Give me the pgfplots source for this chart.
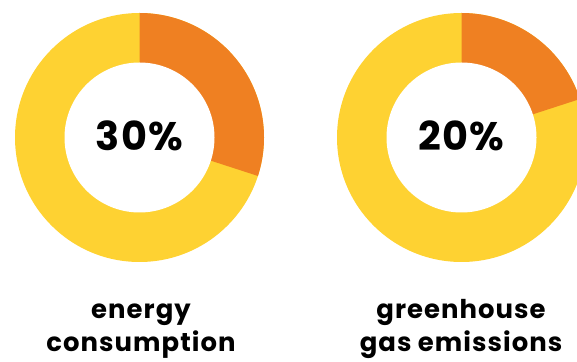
\documentclass[border=0pt]{standalone}
\usepackage{pgfplots}
\pgfplotsset{compat=1.18}
\usepackage{pgfplotstable}
\usepackage{fontspec}
\setmainfont{Poppins}[BoldFont={* Bold}]
\newfontfamily\labelfont{Poppins}[UprightFont={* Bold}, LetterSpace=4]
\newfontfamily\pctfont{Poppins}[UprightFont={* Bold}, LetterSpace=3]
\definecolor{donutorange}{RGB}{239,128,34}
\definecolor{donutyellow}{RGB}{254,210,50}
\pgfplotstableread{
idx cx value
0 139.5 30
1 461.5 20
}\donutdata
\begin{document}
\begin{tikzpicture}
\begin{axis}[
  width=577bp, height=362bp, scale only axis,
  xmin=0, xmax=577, ymin=0, ymax=362,
  hide axis, clip=true,
]
\addplot[draw=none, mark=none] coordinates {(0,0) (577,362)};
\pgfplotsforeachungrouped \i in {0,1}{%
  \pgfplotstablegetelem{\i}{cx}\of\donutdata
  \edef\cx{\pgfplotsretval}%
  \pgfplotstablegetelem{\i}{value}\of\donutdata
  \edef\val{\pgfplotsretval}%
  \edef\temp{\noexpand\fill[donutyellow] (axis cs:\cx,224.5) circle[radius=124.5bp];
    \noexpand\fill[donutorange] (axis cs:\cx,224.5) -- ++(90:124.5bp) arc[start angle=90, delta angle={-3.6*\val}, radius=124.5bp] -- cycle;
    \noexpand\fill[white] (axis cs:\cx,224.5) circle[radius=75bp];
    \noexpand\node[font=\noexpand\fontsize{40}{42}\noexpand\selectfont\noexpand\pctfont] at (axis cs:\cx,226) {\val\noexpand\%};}%
  \temp
}
\node[font=\fontsize{26}{33}\selectfont\labelfont, align=center, anchor=base, inner sep=0pt] at (axis cs:141,11) {energy\\consumption};
\node[font=\fontsize{26}{33}\selectfont\labelfont, align=center, anchor=base, inner sep=0pt] at (axis cs:461,11) {greenhouse\\gas emissions};
\end{axis}
\pgfresetboundingbox
\path[use as bounding box] (current axis.south west) rectangle (current axis.north east);
\end{tikzpicture}
\end{document}
